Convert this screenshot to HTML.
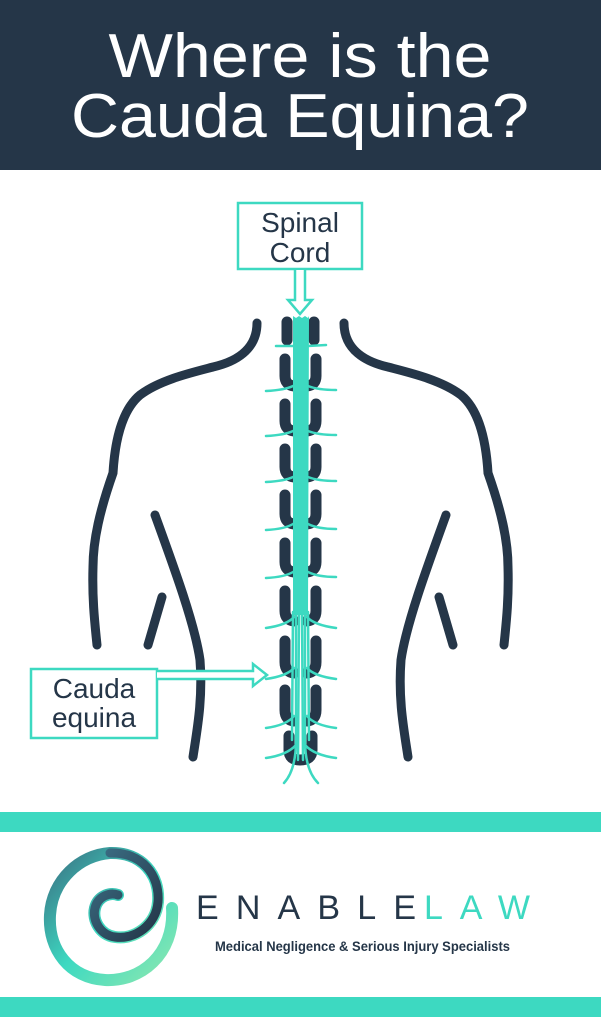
<!DOCTYPE html>
<html><head><meta charset="utf-8"><style>
html,body{margin:0;padding:0;background:#fff}
svg{display:block}
text{font-family:"Liberation Sans",sans-serif}
</style></head><body>
<svg width="601" height="1017" viewBox="0 0 601 1017" xmlns="http://www.w3.org/2000/svg">
<defs>
<linearGradient id="g1" x1="0" y1="0" x2="1" y2="1">
<stop offset="0" stop-color="#3a6f82"/><stop offset="0.5" stop-color="#3dd9c1"/><stop offset="1" stop-color="#8de8b0"/>
</linearGradient>
<linearGradient id="g2" x1="0" y1="0" x2="1" y2="1">
<stop offset="0" stop-color="#3b6f85"/><stop offset="1" stop-color="#243547"/>
</linearGradient>
</defs>
<rect x="0" y="0" width="601" height="170" fill="#253648"/>
<text x="300" y="77" fill="#fff" font-size="62" text-anchor="middle" textLength="383" lengthAdjust="spacingAndGlyphs">Where is the</text>
<text x="300" y="137" fill="#fff" font-size="62" text-anchor="middle" textLength="458" lengthAdjust="spacingAndGlyphs">Cauda Equina?</text>

<!-- Spinal cord label -->
<rect x="238" y="203" width="124" height="66" fill="#fff" stroke="#3dd9c1" stroke-width="2.5"/>
<text x="300" y="232" fill="#253648" font-size="28" text-anchor="middle">Spinal</text>
<text x="300" y="262" fill="#253648" font-size="28" text-anchor="middle">Cord</text>
<path d="M295 270 V300 H288 L300 314 L312 300 H305 V270" fill="#fff" stroke="#3dd9c1" stroke-width="2.5"/>

<!-- body outline -->
<g fill="none" stroke="#253648" stroke-width="9" stroke-linecap="round">
<path d="M257 323 C257 350 235 362 213 367 C190 373 160 380 140 395 C122 410 115 440 113 473 C100 510 93 540 93 567 C92 600 95 625 97 645"/>
<path d="M155 515 C175 570 195 625 200 660 C203 700 197 730 193 757"/>
<path d="M162 597 L148 645"/>
<path d="M344 323 C344 350 366 362 388 367 C411 373 441 380 461 395 C479 410 486 440 488 473 C501 510 508 540 508 567 C509 600 506 625 504 645"/>
<path d="M446 515 C426 570 406 625 401 660 C398 700 404 730 408 757"/>
<path d="M439 597 L453 645"/>
</g>

<!-- vertebrae -->
<g fill="none" stroke="#253648" stroke-width="11" stroke-linecap="round">
<path d="M287 322 V340"/><path d="M314 322 V340"/>
<path d="M285 359 V376 Q285 385 294 386"/><path d="M316 359 V376 Q316 385 307 386"/>
<path d="M285 404 V421 Q285 430 294 431"/><path d="M316 404 V421 Q316 430 307 431"/>
<path d="M285 449 V467 Q285 476 294 477"/><path d="M316 449 V467 Q316 476 307 477"/>
<path d="M285 495 V514 Q285 523 294 524"/><path d="M316 495 V514 Q316 523 307 524"/>
<path d="M285 543 V562 Q285 571 294 572"/><path d="M316 543 V562 Q316 571 307 572"/>
<path d="M285 591 V611 Q285 620 294 621"/><path d="M316 591 V611 Q316 620 307 621"/>
<path d="M285 641 V662 Q285 672 294 673"/><path d="M316 641 V662 Q316 672 307 673"/>
<path d="M285 690 V710 Q285 720 294 721"/><path d="M316 690 V710 Q316 720 307 721"/>
<path d="M289 736 V750 Q289 760 300 760 Q312 760 312 750 V736"/>
</g>

<!-- cord -->
<path d="M293 316 L296 318 L299 316 L302 318 L305 316 L308 318 L309 316 L308 615 L293 615 Z" fill="#3dd9c1"/>
<g fill="none" stroke="#3dd9c1" stroke-width="2.5" stroke-linecap="round">
<path d="M296 610 L296 740 Q296 770 284 783"/>
<path d="M305 610 L305 740 Q305 770 318 783"/>
<path d="M299 610 L298 760"/><path d="M302 610 L303 760"/>
<path d="M293 612 L292 740"/><path d="M308 612 L309 740"/>
<!-- nerves -->
<path d="M276 346 L293 346"/><path d="M308 346 L326 345"/>
<path d="M266 391 Q285 390 293 386"/><path d="M308 386 Q318 390 336 390"/>
<path d="M266 436 Q285 435 293 431"/><path d="M308 431 Q318 435 336 435"/>
<path d="M266 482 Q285 481 293 477"/><path d="M308 477 Q318 481 336 481"/>
<path d="M266 530 Q285 529 293 524"/><path d="M308 524 Q318 529 336 529"/>
<path d="M266 578 Q285 577 293 572"/><path d="M308 572 Q318 577 336 577"/>
<path d="M266 628 Q287 625 294 617"/><path d="M307 617 Q314 625 336 628"/>
<path d="M266 679 Q287 676 294 668"/><path d="M307 668 Q314 676 336 679"/>
<path d="M266 728 Q287 725 294 716"/><path d="M307 716 Q314 725 336 728"/>
<path d="M266 758 Q287 755 296 745"/><path d="M305 745 Q314 755 336 758"/>
</g>

<!-- cauda label -->
<rect x="31" y="669" width="126" height="69" fill="#fff" stroke="#3dd9c1" stroke-width="2.5"/>
<text x="94" y="698" fill="#253648" font-size="28" text-anchor="middle">Cauda</text>
<text x="94" y="727" fill="#253648" font-size="28" text-anchor="middle">equina</text>
<path d="M157 671 H253 V664 L267 675 L253 686 V679 H157" fill="#fff" stroke="#3dd9c1" stroke-width="2.5"/>

<!-- bars -->
<rect x="0" y="812" width="601" height="20" fill="#3dd9c1"/>
<rect x="0" y="997" width="601" height="20" fill="#3dd9c1"/>

<!-- logo swirl -->
<g fill="none" stroke-linecap="round">
<path d="M172 908 C175 955 140 982 105 980 C70 978 48 950 50 915 C52 880 80 855 110 853 C142 852 160 875 158 902 C156 925 135 940 115 937 C100 935 92 920 95 908 C98 896 110 892 118 895" stroke="url(#g1)" stroke-width="12"/>
<path d="M110 853 C142 852 160 875 158 902 C156 925 135 940 115 937 C100 935 92 920 95 908 C98 896 110 892 118 895" stroke="url(#g2)" stroke-width="9"/>
</g>
<text x="196" y="919" font-size="34" fill="#253648" textLength="220" lengthAdjust="spacing">ENABLE</text>
<text x="424" y="919" font-size="34" fill="#3dd9c1" textLength="106" lengthAdjust="spacing">LAW</text>
<text x="215" y="951" font-size="13.5" font-weight="bold" fill="#253648" textLength="295" lengthAdjust="spacingAndGlyphs">Medical Negligence &amp; Serious Injury Specialists</text>
</svg>
</body></html>
